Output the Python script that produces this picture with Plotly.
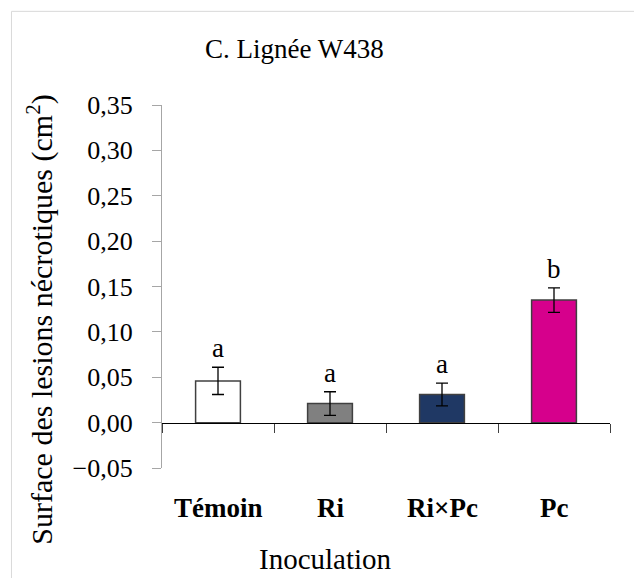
import plotly.graph_objects as go

# Lesion area per inoculation treatment, line W438
categories = ["Témoin", "Ri", "Ri×Pc", "Pc"]
means = [0.046, 0.021, 0.031, 0.135]
errors = [0.015, 0.013, 0.0125, 0.0135]
letters = ["a", "a", "a", "b"]
colors = ["#ffffff", "#808080", "#1f3864", "#d6008c"]
y_ticks = [-0.05, 0.00, 0.05, 0.10, 0.15, 0.20, 0.25, 0.30, 0.35]

FONT = "Liberation Serif, Times New Roman, DejaVu Serif, serif"

fig = go.Figure()
fig.add_trace(go.Bar(
    x=categories,
    y=means,
    width=0.4,
    marker=dict(color=colors, line=dict(color="#404040", width=1.5)),
    error_y=dict(type="data", array=errors, color="black", thickness=1.3, width=6),
    showlegend=False,
))

annotations = []
# significance letters above each error bar
for cat, m, e, letter in zip(categories, means, errors, letters):
    annotations.append(dict(
        x=cat, y=m + e, xref="x", yref="y", text=letter, showarrow=False,
        yanchor="bottom", yshift=2, font=dict(family=FONT, size=27, color="black"),
    ))
# category labels under the plot
for cat in categories:
    annotations.append(dict(
        x=cat, y=-0.11, xref="x", yref="paper", text="<b>" + cat + "</b>",
        showarrow=False, yanchor="middle",
        font=dict(family=FONT, size=27, color="black"),
    ))
# chart and axis titles
annotations.append(dict(
    x=0.295, y=1.155, xref="paper", yref="paper", text="C. Lignée W438",
    showarrow=False, xanchor="center", yanchor="middle",
    font=dict(family=FONT, size=27, color="black"),
))
annotations.append(dict(
    x=0.366, y=-0.252, xref="paper", yref="paper", text="Inoculation",
    showarrow=False, xanchor="center", yanchor="middle",
    font=dict(family=FONT, size=29, color="black"),
))
annotations.append(dict(
    x=-0.272, y=0.409, xref="paper", yref="paper",
    text="Surface des lesions nécrotiques (cm<sup>2</sup>)",
    showarrow=False, textangle=-90, xanchor="center", yanchor="middle",
    font=dict(family=FONT, size=30, color="black"),
))

fig.update_layout(
    width=634, height=578,
    margin=dict(l=162, r=24, t=105, b=110.3),
    paper_bgcolor="white", plot_bgcolor="white",
    font=dict(family=FONT, color="black"),
    separators=", ",
    bargap=0.6,
    annotations=annotations,
    shapes=[
        dict(type="line", xref="paper", yref="paper", x0=-0.336, y0=1.258, x1=1.2, y1=1.258,
             line=dict(color="#d9d9d9", width=1)),
        dict(type="line", xref="paper", yref="paper", x0=-0.336, y0=1.258, x1=-0.336, y1=-0.5,
             line=dict(color="#d9d9d9", width=1)),
    ],
    xaxis=dict(
        type="category", categoryorder="array", categoryarray=categories,
        range=[-0.5, len(categories) - 0.5],
        anchor="free", position=0.125,
        showline=True, linecolor="black", linewidth=1.3,
        ticks="outside", tickson="boundaries", ticklen=9, tickcolor="#404040", tickwidth=1.3,
        showticklabels=False, showgrid=False, zeroline=False,
    ),
    yaxis=dict(
        range=[-0.05, 0.35], tickmode="array", tickvals=y_ticks, tickformat=".2f",
        showline=True, linecolor="#a6a6a6", linewidth=1.3,
        ticks="outside", ticklen=9, tickcolor="#a6a6a6", tickwidth=1.3,
        ticklabelstandoff=14,
        tickfont=dict(family=FONT, size=26, color="black"),
        showgrid=False, zeroline=False,
    ),
)

fig.write_html("out.html")
